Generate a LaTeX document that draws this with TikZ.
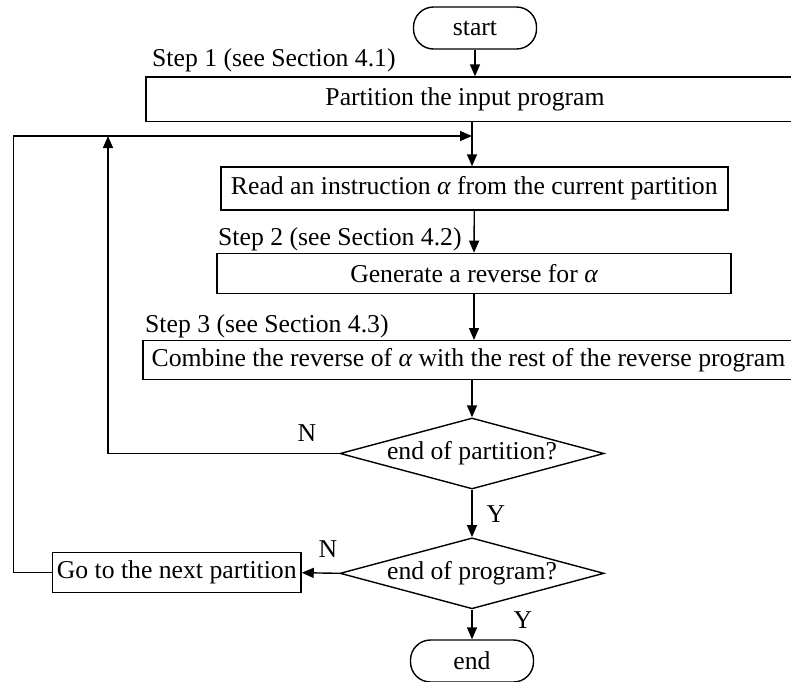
\documentclass[tikz,border=0pt]{standalone}
\usepackage{fontspec}
\setmainfont{Liberation Serif}
\usetikzlibrary{shapes.geometric,arrows.meta}
\begin{document}
\begin{tikzpicture}[x=1pt,y=-1pt,
  every node/.style={font=\fontsize{25.7}{30}\selectfont},
  box/.style={draw, line width=1.4pt, rectangle, inner sep=0pt},
  term/.style={draw, line width=1.4pt, rectangle, rounded corners=20pt, inner sep=0pt, minimum width=123pt, minimum height=42pt},
  dec/.style={draw, line width=1.4pt, diamond, aspect=3.72, inner sep=0pt, minimum width=264pt, minimum height=71pt},
  lbl/.style={inner sep=0pt, anchor=base west},
  yn/.style={inner sep=0pt, anchor=base},
  conn/.style={line width=1.4pt},
  arr/.style={conn, -{Triangle[length=12pt,width=10pt]}}
]
\useasboundingbox (0,0) rectangle (791,681);
\clip (0,0) rectangle (791,681);

\node[term] (start) at (475,28) {start};
\node[lbl] (s1) at (152,66.7) {Step 1 (see Section 4.1)};
\node[box, minimum width=654pt, minimum height=44.5pt] (part) at (473,99.3) {\hspace*{-16pt}Partition the input program};
\node[box, minimum width=507pt, minimum height=43pt] (read) at (474.3,188.5) {Read an instruction {\itshape α} from the current partition};
\node[lbl] (s2) at (218,245) {Step 2 (see Section 4.2)};
\node[box, minimum width=514pt, minimum height=40pt] (gen) at (474,273.4) {Generate a reverse for {\itshape α}};
\node[lbl] (s3) at (145,332) {Step 3 (see Section 4.3)};
\node[box, minimum width=657pt, minimum height=38.6pt] (comb) at (471.5,360) {\hspace*{-6pt}Combine the reverse of {\itshape α} with the rest of the reverse program};
\node[dec] (d1) at (472,453.5) {};
\node (d1t) at (d1.center) {end of partition?};
\node[dec] (d2) at (472,573.3) {};
\node (d2t) at (d2.center) {end of program?};
\node[box, minimum width=248.7pt, minimum height=40pt] (go) at (176.7,572.7) {Go to the next partition};
\node[term] (end) at (472,661) {end};

\node[yn] (n1) at (307,441.7) {N};
\node[yn] (y1) at (496,522.7) {Y};
\node[yn] (n2) at (328,557) {N};
\node[yn] (y2) at (523,628.3) {Y};

\coordinate (axis) at (472,0);
\coordinate (itop) at (108,136);
\coordinate (otop) at (13.3,136);

\draw[arr] (start.south) -- (start.south |- part.north);
\draw[arr] (axis |- part.south) -- (axis |- read.north);
\draw[arr] (read.south) -- (gen.north);
\draw[arr] (gen.south) -- (gen.south |- comb.north);
\draw[arr] (d1.north |- comb.south) -- (d1.north);
\draw[arr] (d1.south) -- (d2.north);
\draw[arr] (d2.south) -- (end.north);
\draw[arr] (d1.west) -| (itop);
\draw[arr] (d2.west) -- (go.east);
\draw[arr] (go.west) -| (otop) -- (otop -| axis);
\end{tikzpicture}
\end{document}
